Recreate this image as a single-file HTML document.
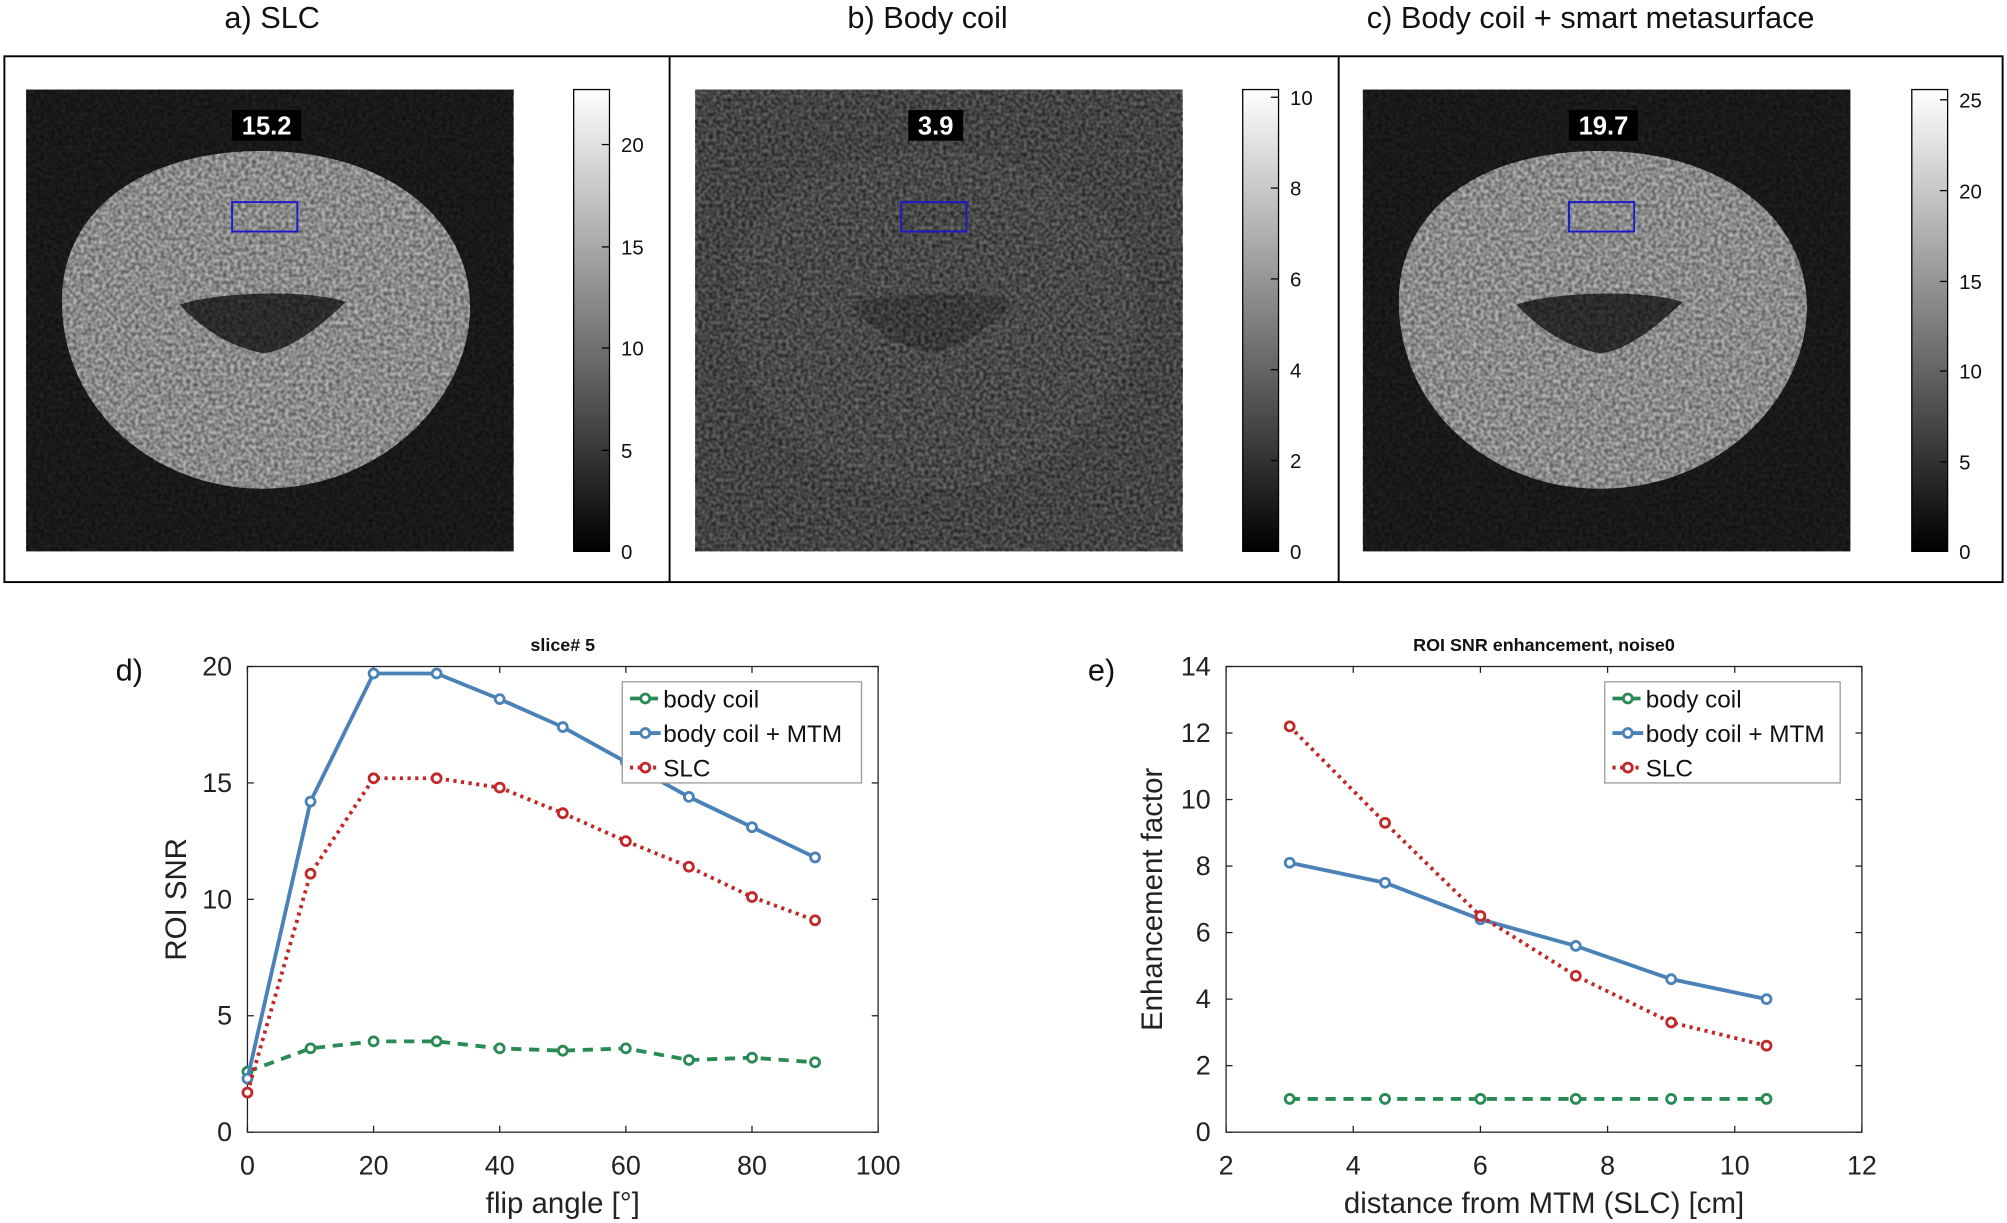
<!DOCTYPE html>
<html><head><meta charset="utf-8"><style>
html,body{margin:0;padding:0;background:#fff}
svg{display:block}
text{font-family:"Liberation Sans","DejaVu Sans",sans-serif}
</style></head><body>
<svg id="s" width="2007" height="1223" viewBox="0 0 1568 956" xmlns="http://www.w3.org/2000/svg">
<defs>
<filter id="nz" x="0" y="0" width="100%" height="100%">
<feTurbulence type="fractalNoise" baseFrequency="0.35" numOctaves="1" seed="3"/>
<feColorMatrix type="matrix" values="0 0 0 0 0  0 0 0 0 0  0 0 0 0 0  0 0 0 -1.6 1.25"/>
</filter>
<linearGradient id="cb" x1="0" y1="1" x2="0" y2="0"><stop offset="0" stop-color="#000"/><stop offset="1" stop-color="#fff"/></linearGradient>
</defs>
<rect width="1568" height="956" fill="#fff"/>
<g font-size="24" fill="#111">
<text x="175" y="22">a)  SLC</text>
<text x="662" y="22">b)  Body coil</text>
<text x="1068" y="22">c)  Body coil + smart metasurface</text>
</g>
<rect x="3" y="44" width="1562" height="411" fill="none" stroke="#000" stroke-width="1.5"/>
<line x1="523" y1="44" x2="523" y2="455" stroke="#000" stroke-width="1.5"/>
<line x1="1046" y1="44" x2="1046" y2="455" stroke="#000" stroke-width="1.5"/>
<g id="imgs"></g>
<g id="plots"></g>
</svg>
<script>
const NS="http://www.w3.org/2000/svg";
function el(p,t,a,txt){const e=document.createElementNS(NS,t);for(const k in a)e.setAttribute(k,a[k]);if(txt!==undefined)e.textContent=txt;p.appendChild(e);return e;}
const imgs=document.getElementById('imgs');
const OUT="M205,118 C300,118 367,170 367,240 C367,310 300,382 205,382 C120,382 48,320 48,235 C48,165 110,118 205,118 Z";
const HOLE="M140,238 C170,228 240,226 270,236 C250,255 225,275 205,276 C180,272 155,255 140,238 Z";
const panels=[{x:20,cb:448,lab:"15.2",bright:true,ticks:[[0,431],[5,352],[10,272],[15,193],[20,113]]},
{x:543,cb:971,lab:"3.9",bright:false,ticks:[[0,431],[2,360],[4,289],[6,218],[8,147],[10,76]]},
{x:1065,cb:1494,lab:"19.7",bright:true,ticks:[[0,431],[5,361],[10,290],[15,220],[20,149],[25,78]]}];
panels.forEach((p,i)=>{
 const g=el(imgs,'g',{});
 const cx=p.x+190, dx=p.x-20;
 if(p.bright){
  el(g,'rect',{x:p.x,y:70,width:381,height:361,fill:'#222'});
  el(g,'path',{d:OUT,fill:'#b8b8b8',transform:`translate(${dx},0)`});
  el(g,'path',{d:HOLE,fill:'#3a3a3a',transform:`translate(${dx},0)`});
 } else {
  el(g,'rect',{x:p.x,y:70,width:381,height:361,fill:'#646464'});
  el(g,'path',{d:OUT,fill:'#6c6c6c',transform:`translate(${dx},0)`});
  el(g,'path',{d:HOLE,fill:'#555',transform:`translate(${dx},0)`});
 }
 el(g,'rect',{x:p.x,y:70,width:381,height:361,fill:'#000',filter:'url(#nz)',opacity:p.bright?0.55:0.7});
 const w=p.lab.length*11+10;
 el(g,'rect',{x:cx-w/2-2,y:86,width:w,height:24,fill:'#000'});
 el(g,'text',{x:cx-2,y:105,'font-size':20,'font-weight':'bold',fill:'#fff','text-anchor':'middle'},p.lab);
 el(g,'rect',{x:p.x+161,y:158,width:51,height:23,fill:'none',stroke:'#1a1acc','stroke-width':1.5});
 el(g,'rect',{x:p.cb,y:70,width:28,height:361,fill:'url(#cb)',stroke:'#000','stroke-width':1});
 p.ticks.forEach(t=>{el(g,'line',{x1:p.cb+22,x2:p.cb+28,y1:t[1],y2:t[1],stroke:'#000'});
  el(g,'text',{x:p.cb+37,y:t[1]+6,'font-size':16,fill:'#111'},t[0]);});
});
const plots=document.getElementById('plots');
const BLUE='#4a82b8',RED='#c0282a',GREEN='#2a8a55';
function plot(o){
 const g=el(plots,'g',{});
 const X=v=>o.x0+(v-o.xmin)/(o.xmax-o.xmin)*(o.x1-o.x0);
 const Y=v=>o.y0-(v-o.ymin)/(o.ymax-o.ymin)*(o.y0-o.y1);
 el(g,'rect',{x:o.x0,y:o.y1,width:o.x1-o.x0,height:o.y0-o.y1,fill:'none',stroke:'#222','stroke-width':1});
 o.xt.forEach(v=>{el(g,'line',{x1:X(v),x2:X(v),y1:o.y0,y2:o.y0-5,stroke:'#222'});el(g,'line',{x1:X(v),x2:X(v),y1:o.y1,y2:o.y1+5,stroke:'#222'});
  el(g,'text',{x:X(v),y:o.y0+33,'font-size':21,'text-anchor':'middle',fill:'#222'},v);});
 o.yt.forEach(v=>{el(g,'line',{x1:o.x0,x2:o.x0+5,y1:Y(v),y2:Y(v),stroke:'#222'});el(g,'line',{x1:o.x1,x2:o.x1-5,y1:Y(v),y2:Y(v),stroke:'#222'});
  el(g,'text',{x:o.x0-12,y:Y(v)+7,'font-size':21,'text-anchor':'end',fill:'#222'},v);});
 el(g,'text',{x:(o.x0+o.x1)/2,y:o.y1-12,'font-size':14,'font-weight':'bold','text-anchor':'middle',fill:'#111'},o.title);
 el(g,'text',{x:(o.x0+o.x1)/2,y:o.y0+63,'font-size':23,'text-anchor':'middle',fill:'#222'},o.xl);
 el(g,'text',{x:o.ylx,y:(o.y0+o.y1)/2,'font-size':23,'text-anchor':'middle',fill:'#222',transform:`rotate(-90 ${o.ylx} ${(o.y0+o.y1)/2})`},o.yl);
 el(g,'text',{x:o.lx,y:532,'font-size':24,fill:'#111'},o.letter);
 const ser=[[o.g,GREEN,'8,6'],[o.b,BLUE,''],[o.r,RED,'2.5,3.5']];
 ser.forEach(s=>{const pts=o.xs.map((x,i)=>X(x)+','+Y(s[0][i])).join(' ');
  el(g,'polyline',{points:pts,fill:'none',stroke:s[1],'stroke-width':3,'stroke-dasharray':s[2]});
  o.xs.forEach((x,i)=>el(g,'circle',{cx:X(x),cy:Y(s[0][i]),r:3.5,fill:'#fff',stroke:s[1],'stroke-width':2.2}));});
 const lx=o.lgx;
 el(g,'rect',{x:lx,y:533,width:o.lgw,height:79,fill:'#fff',stroke:'#999','stroke-width':1});
 [['body coil',GREEN,'8,6'],['body coil + MTM',BLUE,''],['SLC',RED,'2.5,3.5']].forEach((e,i)=>{
  const y=546+i*27;
  el(g,'line',{x1:lx+6,x2:lx+30,y1:y,y2:y,stroke:e[1],'stroke-width':3,'stroke-dasharray':e[2]});
  el(g,'circle',{cx:lx+18,cy:y,r:3.5,fill:'#fff',stroke:e[1],'stroke-width':2.2});
  el(g,'text',{x:lx+32,y:y+7,'font-size':19,fill:'#111'},e[0]);});
}
plot({x0:193,x1:686,y0:885,y1:521,xmin:0,xmax:100,ymin:0,ymax:20,xt:[0,20,40,60,80,100],yt:[0,5,10,15,20],
 title:'slice# 5',xl:'flip angle [°]',yl:'ROI SNR',ylx:145,lx:90,letter:'d)',lgx:486,lgw:187,
 xs:[0,10,20,30,40,50,60,70,80,90],
 b:[2.3,14.2,19.7,19.7,18.6,17.4,15.9,14.4,13.1,11.8],
 r:[1.7,11.1,15.2,15.2,14.8,13.7,12.5,11.4,10.1,9.1],
 g:[2.6,3.6,3.9,3.9,3.6,3.5,3.6,3.1,3.2,3.0]});
plot({x0:958,x1:1455,y0:885,y1:521,xmin:2,xmax:12,ymin:0,ymax:14,xt:[2,4,6,8,10,12],yt:[0,2,4,6,8,10,12,14],
 title:'ROI SNR enhancement, noise0',xl:'distance from MTM (SLC) [cm]',yl:'Enhancement factor',ylx:908,lx:850,letter:'e)',lgx:1254,lgw:184,
 xs:[3,4.5,6,7.5,9,10.5],
 b:[8.1,7.5,6.4,5.6,4.6,4.0],
 r:[12.2,9.3,6.5,4.7,3.3,2.6],
 g:[1,1,1,1,1,1]});
</script>
</body></html>
